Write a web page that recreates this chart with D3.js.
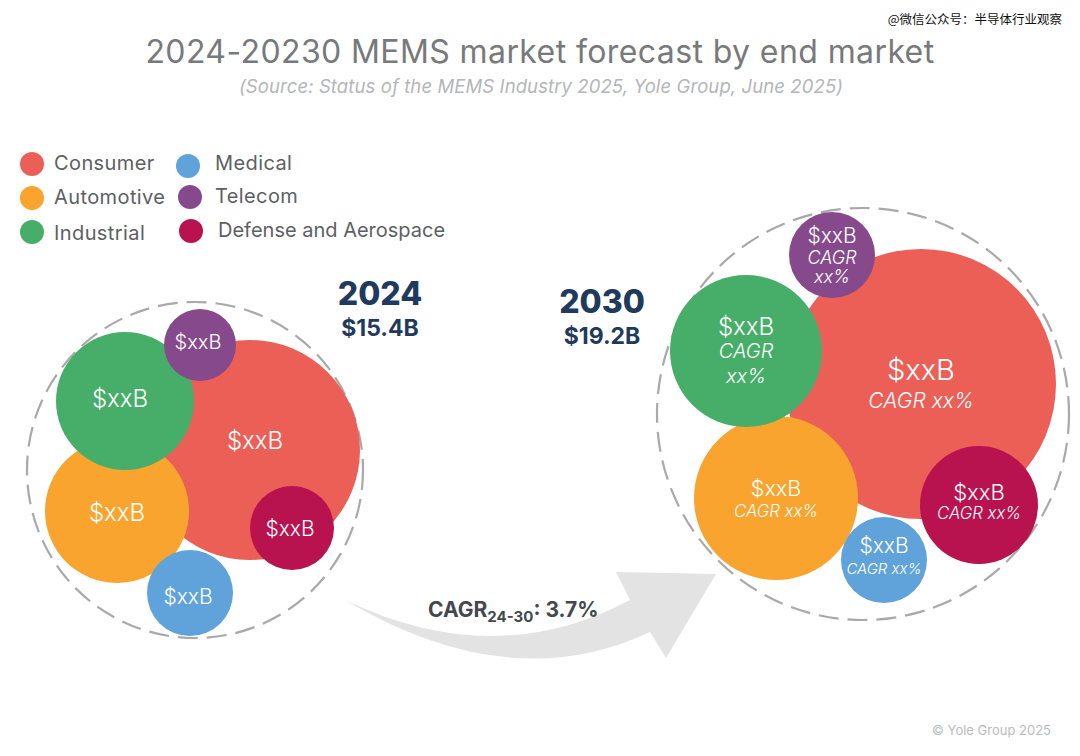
<!DOCTYPE html>
<html>
<head>
<meta charset="utf-8">
<script src="https://cdn.jsdelivr.net/npm/d3@7"></script>
<style>
    html, body { margin: 0; padding: 0; background: #fff; }
    svg { display: block; }
    text { font-family: Inter, "Open Sans", sans-serif; }
</style>
</head>
<body>
<div id="chart"></div>
<script>
// end markets, same order in every array
var categories = ["Consumer", "Automotive", "Industrial", "Medical", "Telecom", "Defense and Aerospace"];
var colors = ["#eb5f57", "#f9a42f", "#47ae69", "#5fa3da", "#864a8c", "#b8124f"];

// bubble: centre and radius, in picture units
var x2024 = [250, 117, 125, 190, 200, 292];
var y2024 = [450, 511, 401, 593, 345, 528];
var r2024 = [110, 72, 69, 43, 36, 42];
var x2030 = [921, 776, 746, 884, 832, 979];
var y2030 = [384, 498, 351, 560, 255, 505];
var r2030 = [135, 82, 76, 43, 43, 59];

var value2024 = ["$xxB", "$xxB", "$xxB", "$xxB", "$xxB", "$xxB"];
var value2030 = ["$xxB", "$xxB", "$xxB", "$xxB", "$xxB", "$xxB"];
var cagr2030 = [["CAGR xx%"], ["CAGR xx%"], ["CAGR", "xx%"], ["CAGR xx%"], ["CAGR", "xx%"], ["CAGR xx%"]];

var width = 1080, height = 756;

var x = d3.scaleLinear().domain([0, 1080]).range([0, width]);
var y = d3.scaleLinear().domain([0, 756]).range([0, height]);
var r = d3.scaleLinear().domain([0, 1080]).range([0, width]);

var svg = d3.select("#chart").append("svg")
    .attr("width", width)
    .attr("height", height);

function label(parent, px, py, txt, size, fill, opts) {
    opts = opts || {};
    return parent.append("text")
        .attr("x", px).attr("y", py)
        .attr("text-anchor", opts.anchor || "middle")
        .attr("font-size", size)
        .attr("font-weight", opts.weight || 400)
        .attr("font-style", opts.style || "normal")
        .attr("letter-spacing", opts.spacing || 0)
        .attr("fill", fill)
        .text(txt);
}

// titles
label(svg, 540, 63, "2024-20230 MEMS market forecast by end market", 32, "#77797b", { spacing: 0.4 });
label(svg, 541, 93, "(Source: Status of the MEMS Industry 2025, Yole Group, June 2025)", 18.5, "#b4b6b8", { style: "italic", spacing: 0.1 });
label(svg, 1062, 24, "@微信公众号：半导体行业观察", 12.5, "#111", { anchor: "end" }).style("font-family", "'Noto Sans CJK SC'");
label(svg, 1051, 735, "© Yole Group 2025", 13, "#b9bbbd", { anchor: "end" });

// legend
var legendX = [32, 32, 32, 188, 190, 191];
var legendY = [164, 198, 232, 166, 197, 231];
var legendTextX = [54, 54, 54, 215, 215, 218];
var legendTextY = [170, 204, 240, 170, 203, 237];

var legend = svg.append("g");
legend.selectAll("circle").data(categories).enter().append("circle")
    .attr("cx", function (d, i) { return legendX[i]; })
    .attr("cy", function (d, i) { return legendY[i]; })
    .attr("r", 12)
    .attr("fill", function (d, i) { return colors[i]; });
legend.selectAll("text").data(categories).enter().append("text")
    .attr("x", function (d, i) { return legendTextX[i]; })
    .attr("y", function (d, i) { return legendTextY[i]; })
    .attr("font-size", 20)
    .attr("letter-spacing", function (d, i) { return i === 5 ? 0 : 0.4; })
    .attr("fill", "#5d6063")
    .text(function (d) { return d; });

// arrow between the two years
var arrow = d3.path();
arrow.moveTo(x(345), y(600));
arrow.quadraticCurveTo(x(510), y(698), x(650), y(632));
arrow.lineTo(x(666), y(658));
arrow.lineTo(x(716), y(574));
arrow.lineTo(x(616), y(572));
arrow.lineTo(x(630), y(600));
arrow.quadraticCurveTo(x(495), y(672), x(345), y(600));
arrow.closePath();
svg.append("path").attr("d", arrow.toString()).attr("fill", "#e3e3e3");

var cagrText = svg.append("text")
    .attr("x", 428).attr("y", 617)
    .attr("font-size", 21).attr("font-weight", 700)
    .attr("fill", "#44484c");
cagrText.append("tspan").text("CAGR");
cagrText.append("tspan").attr("font-size", 15).attr("dy", 5).text("24-30");
cagrText.append("tspan").attr("dy", -5).text(": 3.7%");

// bubbles for one year, dashed ring goes under them
function drawYear(xs, ys, rs, cx, cy, cr) {
    var g = svg.append("g");
    var order = [0, 1, 2, 3, 4, 5];
    g.append("circle")
        .attr("cx", x(cx)).attr("cy", y(cy)).attr("r", r(cr))
        .attr("fill", "none")
        .attr("stroke", "#a9a9a9")
        .attr("stroke-width", 2.2)
        .attr("stroke-dasharray", "20 9");
    g.selectAll("circle.bubble").data(order).enter().append("circle")
        .attr("class", "bubble")
        .attr("cx", function (i) { return x(xs[i]); })
        .attr("cy", function (i) { return y(ys[i]); })
        .attr("r", function (i) { return r(rs[i]); })
        .attr("fill", function (i) { return colors[i]; });
    return g;
}

var g2024 = drawYear(x2024, y2024, r2024, 195, 470, 168);
var g2030 = drawYear(x2030, y2030, r2030, 863, 414, 206);

// 2024 bubble labels
var size2024 = [24, 24, 24, 21, 20, 21];
var labelX2024 = [255, 117, 120, 188, 198, 290];
var labelY2024 = [449, 521, 407, 604, 349, 536];
categories.forEach(function (c, i) {
    label(g2024, x(labelX2024[i]), y(labelY2024[i]), value2024[i], size2024[i], "#fff", { weight: 300 });
});

// 2030 bubble labels, value then CAGR lines
var size2030 = [29, 21.5, 24, 21, 21, 22];
var cagrSize = [21, 16.8, 20, 15, 18, 16.8];
var valueY = [380, 496, 335, 553, 243, 500];
var cagrX = [921, 776, 746, 884, 832, 979];
var cagrY = [[408], [517], [358, 383], [574], [264, 283], [519]];
categories.forEach(function (c, i) {
    label(g2030, x(x2030[i]), y(valueY[i]), value2030[i], size2030[i], "#fff", { weight: 300 });
    cagr2030[i].forEach(function (line, j) {
        label(g2030, x(cagrX[i]), y(cagrY[i][j]), line, cagrSize[i], "#fff", { style: "italic", weight: 300 });
    });
});

// year totals
label(svg, 380, 305, "2024", 32, "#1f3a5c", { weight: 800 });
label(svg, 380, 336, "$15.4B", 23, "#1f3a5c", { weight: 700 });
label(svg, 602, 313, "2030", 32, "#1f3a5c", { weight: 800 });
label(svg, 602, 344, "$19.2B", 23, "#1f3a5c", { weight: 700 });
</script>
</body>
</html>
